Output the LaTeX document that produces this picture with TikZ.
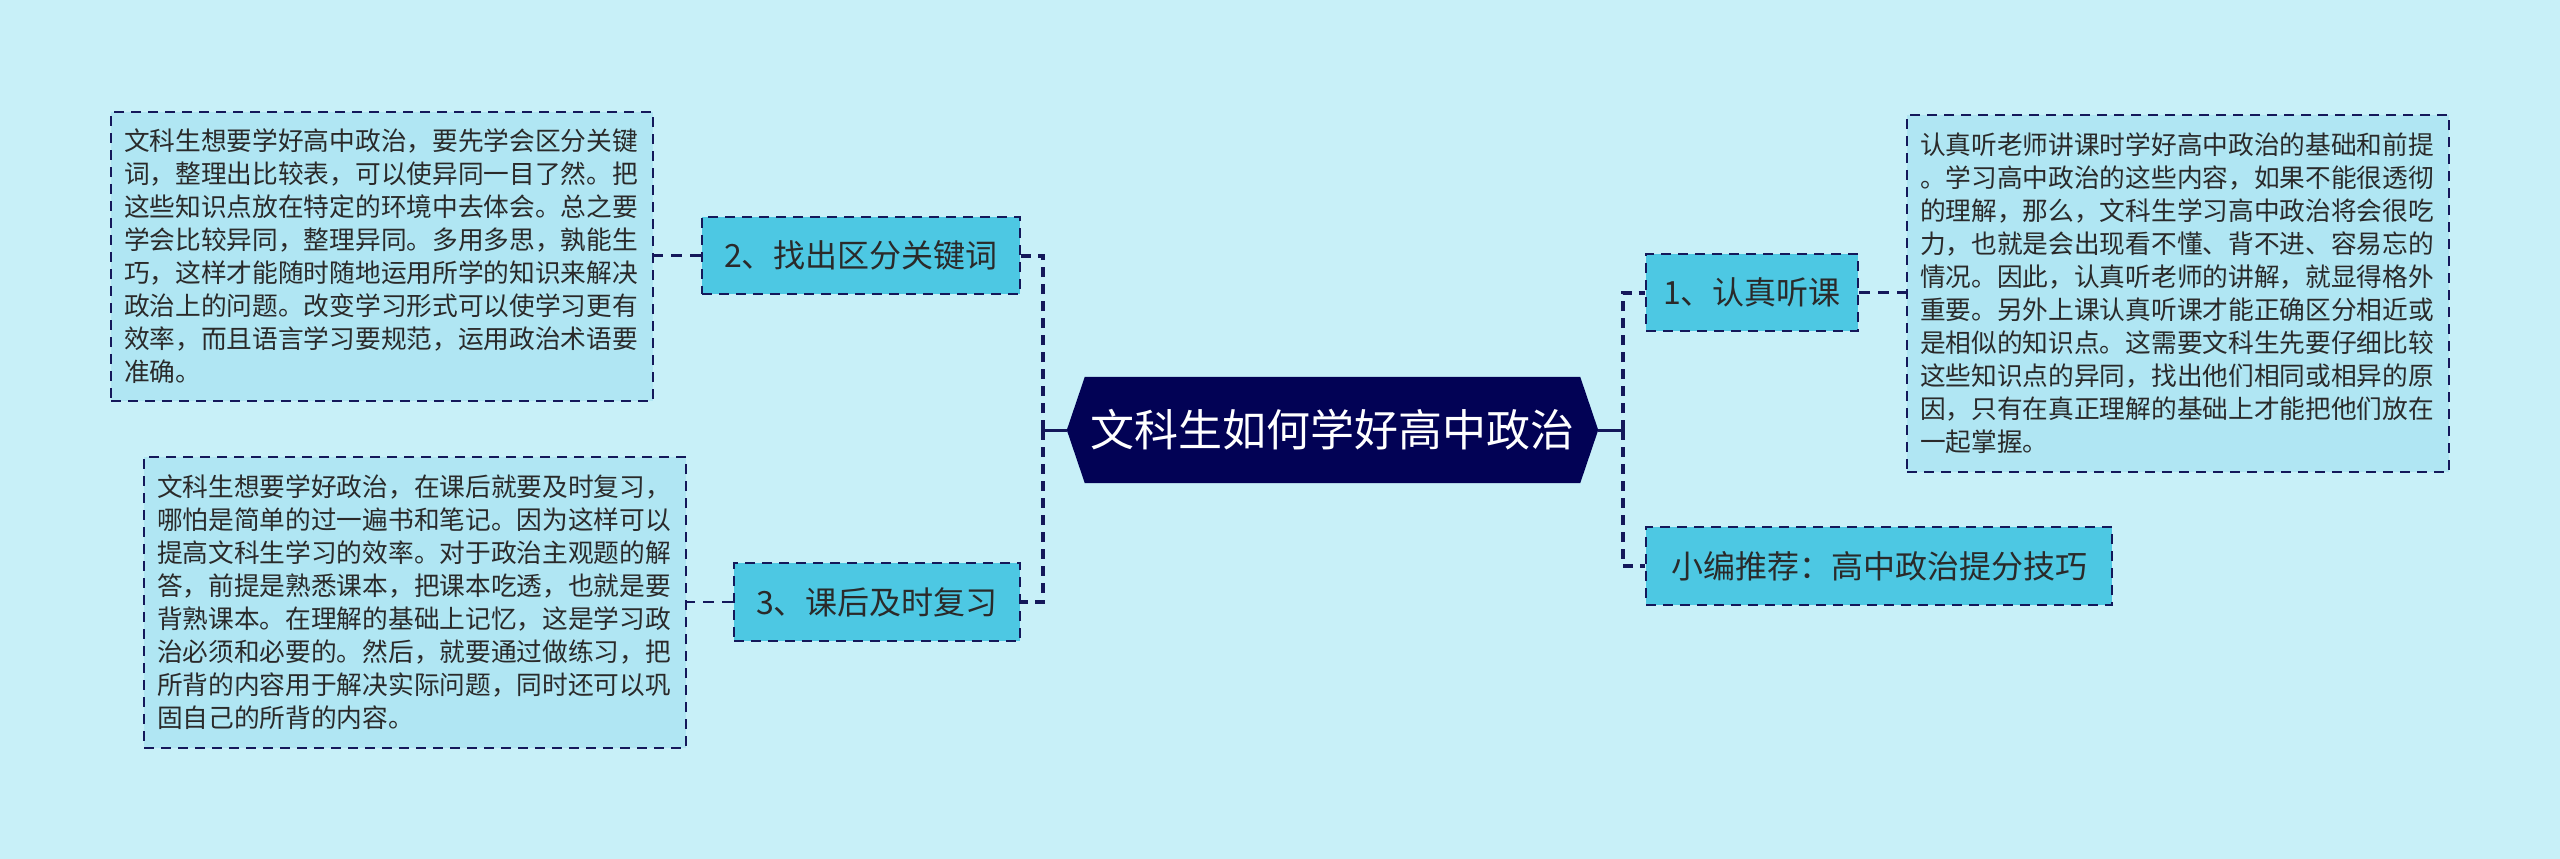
\documentclass[tikz,border=0pt]{standalone}
\usepackage{fontspec}
\setmainfont{Noto Sans CJK SC}
\definecolor{bgc}{HTML}{C8F0F8}
\definecolor{boxc}{HTML}{B0E6F3}
\definecolor{nodec}{HTML}{4DC8E3}
\definecolor{navy}{HTML}{020255}
\definecolor{linec}{HTML}{14185A}
\definecolor{txt}{HTML}{2A2A2A}
\pgfdeclarelayer{bg}
\pgfsetlayers{bg,main}
\begin{document}
\begin{tikzpicture}[x=1pt,y=-1pt,
  textbox/.style={draw=linec, fill=boxc, line width=2.5pt, dash pattern=on 10pt off 7pt,
    inner sep=0pt, text width=516pt, align=left, minimum width=542pt,
    font=\fontsize{25.7}{33}\selectfont, text=txt},
  branch/.style={draw=linec, fill=nodec, line width=2.5pt, dash pattern=on 10pt off 7pt,
    inner sep=0pt, minimum height=77pt, font=\fontsize{32}{36}\selectfont, text=txt},
  bus/.style={draw=linec, line width=4pt, dash pattern=on 10pt off 7pt},
  leaf/.style={draw=linec, line width=2.5pt, dash pattern=on 11pt off 8pt},
  trunk/.style={draw=linec, line width=3pt}
]
\useasboundingbox (0,0) rectangle (2560,859);
\begin{pgfonlayer}{bg}
\fill[bgc] (0,0) rectangle (2560,859);
\end{pgfonlayer}

% central topic
\node[font=\fontsize{44}{50}\selectfont, text=white, minimum width=531pt,
  minimum height=106pt, inner sep=0pt] (c) at (1332.5,430) {文科生如何学好高中政治};
\begin{pgfonlayer}{bg}
\fill[navy] (c.west) -- ([xshift=18pt]c.north west) -- ([xshift=-18pt]c.north east)
  -- (c.east) -- ([xshift=-18pt]c.south east) -- ([xshift=18pt]c.south west) -- cycle;
\end{pgfonlayer}

% branches
\node[branch, minimum width=318pt] (n2) at (861,255.5) {2、找出区分关键词};
\node[branch, minimum width=286pt, minimum height=78pt] (n3) at (877,602) {3、课后及时复习};
\node[branch, minimum width=212pt] (n1) at (1752,292.5) {1、认真听课};
\node[branch, minimum width=466pt, minimum height=78pt] (n4) at (1879,566) {小编推荐：高中政治提分技巧};

% text boxes
\node[textbox, minimum height=289pt] (t2) at (382,256.5) {文科生想要学好高中政治，要先学会区分关键\\
词，整理出比较表，可以使异同一目了然。把\\
这些知识点放在特定的环境中去体会。总之要\\
学会比较异同，整理异同。多用多思，孰能生\\
巧，这样才能随时随地运用所学的知识来解决\\
政治上的问题。改变学习形式可以使学习更有\\
效率，而且语言学习要规范，运用政治术语要\\
准确。};
\node[textbox, minimum height=291pt] (t3) at (415,602.5) {文科生想要学好政治，在课后就要及时复习，\\
哪怕是简单的过一遍书和笔记。因为这样可以\\
提高文科生学习的效率。对于政治主观题的解\\
答，前提是熟悉课本，把课本吃透，也就是要\\
背熟课本。在理解的基础上记忆，这是学习政\\
治必须和必要的。然后，就要通过做练习，把\\
所背的内容用于解决实际问题，同时还可以巩\\
固自己的所背的内容。};
\node[textbox, minimum height=357pt] (t1) at (2178,293.5) {认真听老师讲课时学好高中政治的基础和前提\\
。学习高中政治的这些内容，如果不能很透彻\\
的理解，那么，文科生学习高中政治将会很吃\\
力，也就是会出现看不懂、背不进、容易忘的\\
情况。因此，认真听老师的讲解，就显得格外\\
重要。另外上课认真听课才能正确区分相近或\\
是相似的知识点。这需要文科生先要仔细比较\\
这些知识点的异同，找出他们相同或相异的原\\
因，只有在真正理解的基础上才能把他们放在\\
一起掌握。};

% connectors
\coordinate (lb) at (1043,430);
\coordinate (rb) at (1623,430);
\draw[trunk] (c.west) -- (lb);
\draw[trunk] (c.east) -- (rb);
\draw[bus] (lb) |- (n2.east);
\draw[bus] (lb) |- (n3.east);
\draw[bus] (rb) |- (n1.west);
\draw[bus] (rb) |- (n4.west);
\draw[leaf] (n2.west) -- (n2.west -| t2.east);
\draw[leaf] (n3.west) -- (n3.west -| t3.east);
\draw[leaf] (n1.east) -- (n1.east -| t1.west);
\end{tikzpicture}
\end{document}
